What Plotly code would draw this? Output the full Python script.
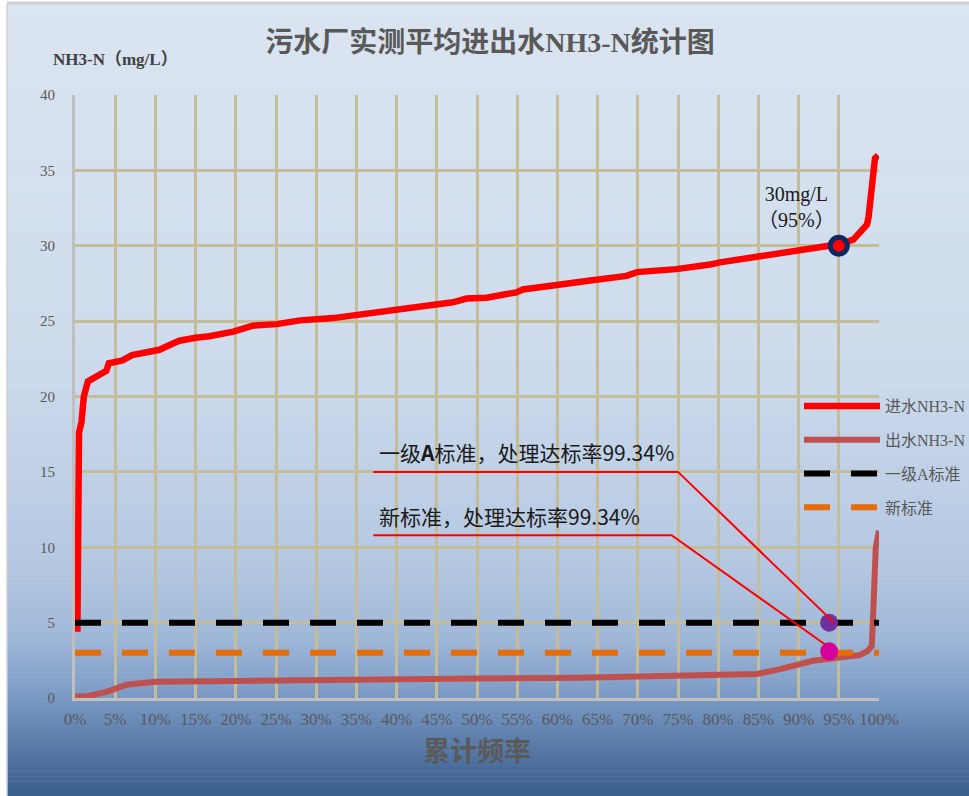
import plotly.graph_objects as go

# ---- data: cumulative frequency (0-1) vs. NH3-N (mg/L) ----
inflow_freq = [0.003, 0.005, 0.008, 0.011, 0.016, 0.030, 0.039, 0.042, 0.059, 0.071,
               0.096, 0.105, 0.121, 0.130, 0.150, 0.167, 0.197, 0.221, 0.251, 0.280,
               0.321, 0.350, 0.379, 0.396, 0.420, 0.445, 0.470, 0.487, 0.512, 0.537,
               0.549, 0.557, 0.578, 0.599, 0.641, 0.686, 0.699, 0.748, 0.790, 0.802,
               0.852, 0.898, 0.939, 0.950, 0.968, 0.978, 0.985, 0.987, 0.991, 0.995,
               0.999]
inflow_nh3 = [4.4, 17.6, 18.3, 20.0, 21.0, 21.5, 21.7, 22.2, 22.4, 22.75,
              22.95, 23.1, 23.5, 23.7, 23.9, 24.0, 24.3, 24.7, 24.8, 25.05,
              25.2, 25.4, 25.6, 25.75, 25.85, 26.1, 26.25, 26.5, 26.55, 26.8,
              26.9, 27.1, 27.2, 27.4, 27.7, 28.0, 28.25, 28.45, 28.75, 28.9,
              29.3, 29.7, 30.0, 30.1, 30.4, 31.05, 31.4, 31.9, 34.2, 35.8,
              36.0]

outflow_freq = [0.000, 0.015, 0.027, 0.040, 0.064, 0.085, 0.100, 0.200, 0.305, 0.408,
                0.504, 0.628, 0.752, 0.848, 0.877, 0.898, 0.918, 0.943, 0.976, 0.986,
                0.991, 0.992, 0.996, 1.000]
outflow_nh3 = [0.10, 0.12, 0.26, 0.42, 0.88, 1.02, 1.07, 1.13, 1.21, 1.27,
               1.30, 1.34, 1.44, 1.59, 1.92, 2.25, 2.47, 2.63, 2.85, 3.13,
               3.46, 4.57, 10.0, 11.1]

series_names = ["进水NH3-N", "出水NH3-N"]
std_names = ["一级A标准", "新标准"]
std_limits = [5, 3]

p95_freq = 0.95
p95_value = 30

compliance_freq = [0.938, 0.938]
compliance_value = [5.0, 3.1]
compliance_rate = [99.34, 99.34]

x_ticks = [i / 20 for i in range(21)]
x_tick_labels = [f"{i * 5}%" for i in range(21)]
y_ticks = list(range(0, 41, 5))

# ---- layout geometry (pixels) ----
W, H = 969, 796
PLOT_L, PLOT_R, PLOT_T, PLOT_B = 75, 879, 95, 698


def px_x(px):
    return (px - PLOT_L) / (PLOT_R - PLOT_L)


def px_y(py):
    return (PLOT_B - py) / (PLOT_B - PLOT_T)


SERIF = "Liberation Serif, Noto Sans CJK SC, serif"
CJK = "Noto Sans CJK SC, sans-serif"
GRID = "#c4bd97"
TEXT = "#595959"

fig = go.Figure()

fig.add_trace(go.Scatter(x=inflow_freq, y=inflow_nh3, mode="lines", name=series_names[0],
                         line=dict(color="#ff0000", width=6.5), legendgroup="a"))
fig.add_trace(go.Scatter(x=outflow_freq, y=outflow_nh3, mode="lines", name=series_names[1],
                         line=dict(color="#c0504d", width=6), legendgroup="b"))
fig.add_trace(go.Scatter(x=[x_ticks[0], x_ticks[-1]], y=[std_limits[0]] * 2, mode="lines",
                         name=std_names[0], legendgroup="c",
                         line=dict(color="#000000", width=6, dash="26px,21px")))
fig.add_trace(go.Scatter(x=[x_ticks[0], x_ticks[-1]], y=[std_limits[1]] * 2, mode="lines",
                         name=std_names[1], legendgroup="d",
                         line=dict(color="#e46c0a", width=6, dash="26px,21px")))

# 95% point of the influent curve
fig.add_trace(go.Scatter(x=[p95_freq], y=[p95_value], mode="markers", showlegend=False,
                         marker=dict(size=17, color="#ff0000",
                                     line=dict(color="#0b2a63", width=5))))

# compliance points on the two standards
fig.add_trace(go.Scatter(x=compliance_freq, y=compliance_value, mode="markers", showlegend=False,
                         marker=dict(size=18, color=["#7030a0", "#d6009b"], line=dict(width=0))))

# ---- background gradient behind the chart ----
stops = [(0.0, (219, 229, 241)), (0.45, (205, 219, 236)), (0.70, (182, 201, 226)),
         (0.80, (160, 184, 216)), (0.88, (120, 152, 195)), (0.94, (88, 121, 167)),
         (1.0, (56, 93, 141))]


def grad_color(t):
    for (t0, c0), (t1, c1) in zip(stops[:-1], stops[1:]):
        if t <= t1:
            f = (t - t0) / (t1 - t0) if t1 > t0 else 0
            return "rgb(%d,%d,%d)" % tuple(round(a + (b - a) * f) for a, b in zip(c0, c1))
    return "rgb(%d,%d,%d)" % stops[-1][1]


shapes = []
top_px, bot_px = 4, H
n = 160
for i in range(n):
    y0 = top_px + (bot_px - top_px) * i / n
    y1 = top_px + (bot_px - top_px) * (i + 1) / n
    shapes.append(dict(type="rect", xref="paper", yref="paper", layer="below",
                       x0=px_x(7), x1=px_x(W + 2), y0=px_y(y1 + 0.6), y1=px_y(y0),
                       fillcolor=grad_color((y0 + y1) / 2 / H), line=dict(width=0)))
# thin frame on the left and top edges
shapes.append(dict(type="line", xref="paper", yref="paper", layer="below",
                   x0=px_x(7), x1=px_x(7), y0=px_y(H), y1=px_y(4),
                   line=dict(color="#d0d0d0", width=1.5)))
shapes.append(dict(type="line", xref="paper", yref="paper", layer="below",
                   x0=px_x(7), x1=px_x(W), y0=px_y(3), y1=px_y(3),
                   line=dict(color="#d0d0d0", width=3)))

# leader lines from the compliance labels to their points
shapes.append(dict(type="path", xref="x", yref="y", layer="above",
                   path=f"M 0.371,15 L 0.750,15 L {compliance_freq[0] + 0.006},{compliance_value[0]}",
                   line=dict(color="#ff0000", width=2)))
shapes.append(dict(type="path", xref="x", yref="y", layer="above",
                   path=f"M 0.371,10.8 L 0.742,10.8 L {compliance_freq[1] - 0.005},{compliance_value[1] + 0.45}",
                   line=dict(color="#ff0000", width=2)))

annotations = [
    dict(text="<b>NH3-N（mg/L）</b>", xref="paper", yref="paper", x=px_x(51), y=px_y(59),
         xanchor="left", yanchor="middle", showarrow=False,
         font=dict(family=SERIF, size=17, color="#404040")),
    dict(text=f"{p95_value}mg/L<br>（{round(p95_freq * 100)}%）", xref="x", yref="y",
         x=0.897, y=32.6, showarrow=False, xanchor="center", yanchor="middle",
         font=dict(family=SERIF, size=20, color="#1a1a1a")),
    dict(text=f"一级<b>A</b>标准，处理达标率{compliance_rate[0]:.2f}%", xref="x", yref="y",
         x=0.375, y=16.3, showarrow=False, xanchor="left", yanchor="middle",
         font=dict(family=CJK, size=21, color="#1a1a1a")),
    dict(text=f"新标准，处理达标率{compliance_rate[1]:.2f}%", xref="x", yref="y",
         x=0.375, y=12.05, showarrow=False, xanchor="left", yanchor="middle",
         font=dict(family=CJK, size=21, color="#1a1a1a")),
]

fig.update_layout(
    width=W, height=H, autosize=False,
    margin=dict(l=PLOT_L, r=W - PLOT_R, t=PLOT_T, b=H - PLOT_B, pad=0, autoexpand=False),
    paper_bgcolor="#ffffff", plot_bgcolor="#e5e0ec",
    title=dict(text="<b>污水厂实测平均进出水NH3-N统计图</b>", x=490 / W,
               xanchor="center", y=1 - 42 / H, yanchor="middle",
               font=dict(family=SERIF, size=28, color=TEXT)),
    xaxis=dict(range=[0, 1], tickvals=x_ticks, ticktext=x_tick_labels,
               showgrid=True, gridcolor=GRID, gridwidth=2.5, zeroline=False,
               showline=True, linecolor="#bfbfbf", linewidth=3, ticks="",
               ticklabelstandoff=4,
               tickfont=dict(family=SERIF, size=17, color=TEXT),
               title=dict(text="<b>累计频率</b>", standoff=14,
                          font=dict(family=SERIF, size=27, color=TEXT))),
    yaxis=dict(range=[0, 40], tickvals=y_ticks, showgrid=True, gridcolor=GRID, gridwidth=2.5,
               zeroline=False, showline=True, linecolor="#bfbfbf", linewidth=3, ticks="",
               ticklabelstandoff=14,
               tickfont=dict(family=SERIF, size=15, color=TEXT)),
    legend=dict(x=px_x(799), xanchor="left", y=px_y(389), yanchor="top",
                bgcolor="rgba(0,0,0,0)", borderwidth=0, itemwidth=76,
                tracegroupgap=10, font=dict(family=SERIF, size=16, color=TEXT)),
    shapes=shapes, annotations=annotations,
)

fig.write_html("out.html")
